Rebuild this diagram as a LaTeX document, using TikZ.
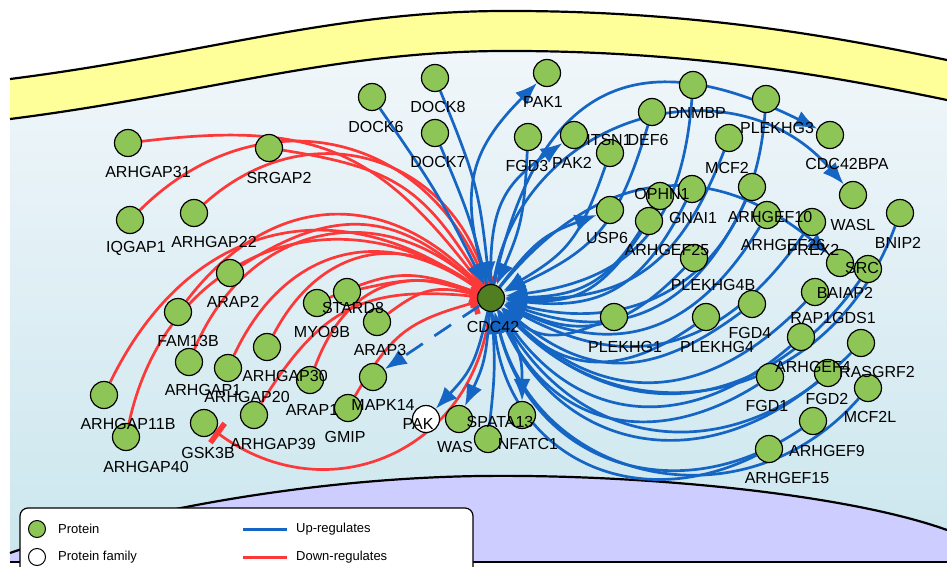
\documentclass[tikz,border=0pt]{standalone}
\usepackage{fontspec}
\setmainfont{Liberation Sans}
\usetikzlibrary{arrows.meta}
\pgfdeclarelayer{cell}
\pgfdeclarelayer{links}
\pgfsetlayers{cell,links,main}
\definecolor{upblue}{RGB}{21,101,196}
\definecolor{downred}{RGB}{252,56,56}
\definecolor{protgreen}{RGB}{141,198,87}
\definecolor{hubgreen}{RGB}{82,126,34}
\definecolor{membrane}{RGB}{255,255,153}
\definecolor{nucleus}{RGB}{205,205,255}
\definecolor{cytotop}{RGB}{244,248,251}
\definecolor{cytobot}{RGB}{203,230,238}

\begin{document}
\begin{tikzpicture}[x=1pt,y=-1pt,
    prot/.style={circle,draw=black,line width=1.2pt,fill=protgreen,minimum size=27pt,inner sep=0pt},
    fam/.style={prot,fill=white},
    hub/.style={prot,fill=hubgreen},
    lbl/.style={font=\fontsize{16}{16}\selectfont,inner sep=0pt},
    legtxt/.style={font=\fontsize{13}{13}\selectfont,anchor=west,inner sep=0pt},
    link/.style={line width=2.7pt,looseness=1.2},
    upline/.style={link,draw=upblue},
    upreg/.style={upline,-{Latex[length=22pt,width=17pt]}},
    downline/.style={link,draw=downred},
    downreg/.style={downline,-{Bar[width=24pt,line width=5.5pt]}}]
    \useasboundingbox (0,0) rectangle (947,567);
    \clip (0,0) rectangle (947,567);

    % cell
    \begin{pgfonlayer}{cell}
        \shade[top color=cytotop,bottom color=cytobot] (10,0) rectangle (947,562);
        \fill[white] (10,0) -- (10,79) .. controls (200,55) and (330,12) .. (500,11)
            .. controls (700,10) and (850,40) .. (947,60) -- (947,0) -- cycle;
        \fill[membrane] (10,79) .. controls (200,55) and (330,12) .. (500,11)
            .. controls (700,10) and (850,40) .. (947,60) -- (947,100)
            .. controls (850,80) and (700,50) .. (500,51)
            .. controls (330,52) and (200,95) .. (10,119) -- cycle;
        \draw[line width=2.2pt] (10,79) .. controls (200,55) and (330,12) .. (500,11)
            .. controls (700,10) and (850,40) .. (947,60);
        \draw[line width=2.2pt] (10,119) .. controls (200,95) and (330,52) .. (500,51)
            .. controls (700,50) and (850,80) .. (947,100);
        \fill[nucleus] (10,553) .. controls (150,505) and (330,478) .. (480,476)
            .. controls (650,474) and (850,495) .. (947,530) -- (947,562) -- (10,562) -- cycle;
        \draw[line width=2.2pt] (10,553) .. controls (150,505) and (330,478) .. (480,476)
            .. controls (650,474) and (850,495) .. (947,530);
        \draw[line width=2.2pt] (10,562) -- (947,562);
    \end{pgfonlayer}

    % proteins
    \def\protlist{arhgap31/128/143/20/29/ARHGAP31, srgap2/269/148/10/30/SRGAP2,
        iqgap1/130/220/6/28/IQGAP1, arhgap22/194/213/20/29/ARHGAP22,
        arap2/230/273/3/29/ARAP2, fam13b/178/312/10/29/FAM13B,
        stard8/347/292/6/16/STARD8, myo9b/317/303/5/29/MYO9B,
        arap3/377/322/3/28/ARAP3, mapk14/373/377/10/28/MAPK14,
        gmip/348/408/-3/29/GMIP, arap1/310/380/2/30/ARAP1,
        arhgap30/267/347/18/29/ARHGAP30, arhgap20/228/368/19/29/ARHGAP20,
        arhgap1/189/362/14/28/ARHGAP1, arhgap39/254/415/19/29/ARHGAP39,
        gsk3b/204/423/4/30/GSK3B, arhgap11b/104/395/24/29/ARHGAP11B,
        arhgap40/126/437/20/30/ARHGAP40,
        was/459/419/-4/28/WAS, spata13/522/415/-22/7/SPATA13,
        nfatc1/488/439/40/5/NFATC1,
        dock6/372/97/4/30/DOCK6, dock8/435/78/3/29/DOCK8, dock7/435/133/3/29/DOCK7,
        pak1/547/73/-4/29/PAK1, fgd3/528/137/-1/29/FGD3, pak2/574/135/-2/28/PAK2,
        itsn1/610/153/-1/-13/ITSN1, def6/652/112/-4/28/DEF6,
        dnmbp/693/85/4/28/DNMBP, plekhg3/766/99/11/29/PLEKHG3,
        cdc42bpa/830/135/17/29/CDC42BPA, mcf2/729/138/-2/30/MCF2,
        wasl/853/195/0/30/WASL, bnip2/900/213/-2/30/BNIP2,
        ophn1/660/196/2/-2/OPHN1, gnai1/692/189/1/29/GNAI1,
        usp6/610/210/-3/28/USP6, arhgef25/649/221/18/29/ARHGEF25,
        plekhg4b/694/258/19/27/PLEKHG4B, arhgef10/752/187/18/30/ARHGEF10,
        arhgef26/767/215/16/30/ARHGEF26, prex2/812/222/1/28/PREX2,
        src/868/269/-6/-1/SRC, baiap2/840/263/5/30/BAIAP2,
        rap1gds1/815/292/18/26/RAP1GDS1, arhgef4/801/337/12/30/ARHGEF4,
        rasgrf2/861/343/16/29/RASGRF2, fgd1/770/377/-3/29/FGD1,
        fgd2/828/373/-1/26/FGD2, mcf2l/868/388/2/29/MCF2L,
        arhgef9/813/421/14/30/ARHGEF9, arhgef15/769/449/18/29/ARHGEF15,
        fgd4/752/304/-2/29/FGD4, plekhg4/706/317/11/30/PLEKHG4,
        plekhg1/614/317/11/30/PLEKHG1}
    \foreach \n/\x/\y/\dx/\dy/\t in \protlist
        \node[prot] (\n) at (\x,\y) {};
    \node[hub] (cdc42) at (491,298) {};
    \node[fam] (pak) at (426,419) {};

    % regulation
    \begin{pgfonlayer}{links}
        \foreach \s/\b in {arhgap31/30, srgap2/25, iqgap1/57, arhgap22/58, arap2/38,
            fam13b/50, arhgap1/55, arhgap20/50, arhgap30/50, arap1/45, myo9b/22,
            stard8/15, arap3/25, gmip/22, arhgap39/32, arhgap11b/50, arhgap40/57}
            \draw[downreg] (\s) to[bend left=\b] (cdc42);
        \draw[downreg] (cdc42) to[bend left=60] (gsk3b);
        \foreach \s/\b in {dock6/4, dock8/8, dock7/4, fgd3/10, itsn1/20, def6/24,
            dnmbp/39, plekhg3/50, mcf2/35, ophn1/30, gnai1/35, arhgef25/30,
            plekhg4b/35, arhgef10/42, arhgef26/42, prex2/42, src/50, bnip2/58,
            rap1gds1/45, arhgef4/48, rasgrf2/52, fgd1/48, fgd2/52, mcf2l/62,
            arhgef9/55, arhgef15/55, fgd4/38, plekhg4/40, plekhg1/32}
            \draw[upreg] (\s) to[bend left=\b] (cdc42);
        \foreach \t/\b in {pak1/31, pak2/28, usp6/16, wasl/65,
            baiap2/45, pak/15, was/10, spata13/15}
            \draw[upreg] (cdc42) to[bend left=\b] (\t);
        \draw[upreg,looseness=1.45] (cdc42) to[bend left=52] (cdc42bpa);
        \draw[upline] (cdc42) to[bend left=5] (nfatc1);
        \draw[upreg,dash pattern=on 20pt off 14pt] (cdc42) -- (mapk14);
    \end{pgfonlayer}

    % names
    \foreach \n/\x/\y/\dx/\dy/\t in \protlist
        \node[lbl] at ([shift={(\dx,\dy)}]\n) {\t};
    \node[lbl] at ([shift={(2,29)}]cdc42) {CDC42};
    \node[lbl] at ([shift={(-8,5)}]pak) {PAK};

    % legend
    \draw[fill=white,line width=1.2pt,rounded corners=8pt] (20,508) rectangle (473,600);
    \node[prot,minimum size=17pt,line width=1pt] (legprot) at (37,529) {};
    \node[legtxt] at (58,529) {Protein};
    \node[fam,minimum size=17pt,line width=1pt] (legfam) at (37,557) {};
    \node[legtxt] at (58,557) {Protein family};
    \coordinate (legupa) at (243,529);
    \coordinate (legupb) at (287,529);
    \draw[upline,line width=3pt] (legupa) -- (legupb);
    \node[legtxt] at (296,529) {Up-regulates};
    \coordinate (legdowna) at (243,557);
    \coordinate (legdownb) at (287,557);
    \draw[downline,line width=3pt] (legdowna) -- (legdownb);
    \node[legtxt] at (296,557) {Down-regulates};
\end{tikzpicture}
\end{document}
